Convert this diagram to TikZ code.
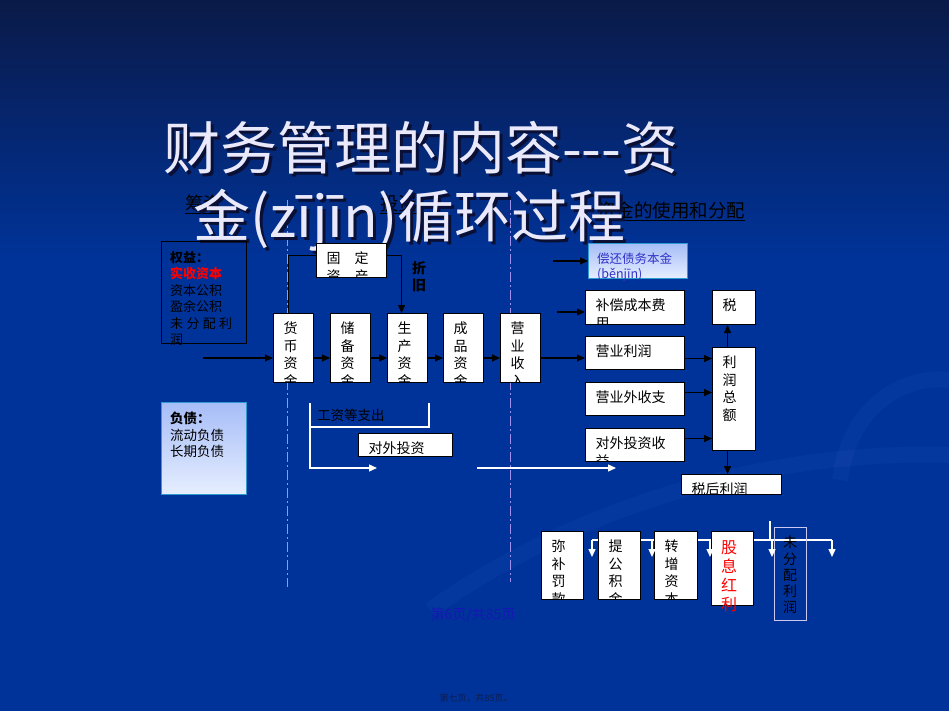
\documentclass[tikz,border=0pt]{standalone}
\usepackage{fontspec}
\setmainfont{Noto Sans CJK SC}
\usetikzlibrary{arrows.meta}
\definecolor{slidetop}{HTML}{0A1A48}
\definecolor{slideblue}{HTML}{003399}
\definecolor{titlefg}{HTML}{E9E9FB}
\definecolor{titleshadow}{HTML}{0A0F35}
\definecolor{guideline}{HTML}{A090F0}
\definecolor{paleblue}{HTML}{A6BDF7}
\definecolor{paleblue2}{HTML}{E6EEFF}
\definecolor{paleedge}{HTML}{2E9AD0}
\definecolor{debttext}{HTML}{3030C8}
\definecolor{retainedge}{HTML}{C8C8F0}
\definecolor{pagemark}{HTML}{1616B4}
\definecolor{footmark}{HTML}{101C50}
\definecolor{swirlblue}{HTML}{2A58C8}
\newcommand*{\FundBox}[6]{% #1 = name, #2 = x, #3 = y, #4 = width, #5 = height, #6 = text
  \node [fundbox, minimum width=#4pt, minimum height=#5pt,
    path picture={\node [boxtext] (#1-t) at ([xshift=9.5pt,yshift=-8pt]path picture bounding box.north west) {#6};}]
    (#1) at (#2,#3) {};%
}

\begin{document}
\begin{tikzpicture}[x=1pt, y=-1pt,
    fundbox/.style={draw=black, fill=white, line width=1.1pt, anchor=north west, inner sep=0pt},
    boxtext/.style={anchor=north west, inner sep=0pt, draw=none, fill=none, minimum width=0pt, minimum height=0pt,
      align=left, text=black, font=\fontsize{14}{17.5}\selectfont},
    flow/.style={draw=black, line width=1.1pt, -{Triangle[length=8pt,width=7pt]}},
    link/.style={draw=black, line width=1.1pt},
    wflow/.style={draw=white, line width=1.3pt, -{Triangle[length=8pt,width=7pt]}},
    wlink/.style={draw=white, line width=1.3pt},
    guide/.style={draw=guideline, line width=0.9pt, dash pattern=on 10pt off 3pt on 2pt off 3pt},
    phaselabel/.style={anchor=west, inner sep=0pt, text=black, font=\fontsize{18.5}{20}\selectfont},
    titletext/.style={anchor=west, inner sep=0pt, font=\fontsize{57}{60}\selectfont},
    swirl/.style={draw=swirlblue, line width=16pt, opacity=0.14}]
    \useasboundingbox (0,0) rectangle (949,711);

    % background
    \fill [top color=slidetop, bottom color=slideblue] (0,0) rectangle (949,260);
    \fill [slideblue] (0,259) rectangle (949,711);
    \draw [swirl] (430,610) .. controls (600,490) and (800,450) .. (949,455);
    \draw [swirl] (840,480) .. controls (850,400) and (910,375) .. (949,380);

    % guide lines
    \coordinate (guideA) at (287,200);
    \coordinate (guideB) at (510,200);
    \draw [guide] (guideA) -- ++(0,387);
    \draw [guide] (guideB) -- ++(0,382);

    % phase labels
    \node [phaselabel] (raise) at (185,203) {筹资};
    \node [phaselabel] (invest) at (380,203) {投资};
    \node [phaselabel] (usage) at (597,210) {资金的使用和分配};
    \foreach \n in {raise,invest,usage}
      \draw [black, line width=1pt] ([yshift=-1.5pt]\n.south west) -- ([yshift=-1.5pt]\n.south east);

    % title
    \node [titletext, text=titleshadow] (title1s) at (166,151) {财务管理的内容-{}-{}-资};
    \node [titletext, text=titlefg] (title1) at (163,148) {财务管理的内容-{}-{}-资};
    \node [titletext, text=titleshadow] (title2s) at (196,223) {金(zījīn)循环过程};
    \node [titletext, text=titlefg] (title2) at (193,220) {金(zījīn)循环过程};

    % left side
    \node [draw=black, line width=1.1pt, anchor=north west, minimum width=85pt, minimum height=102pt] (equity) at (161,241) {};
    \node [anchor=north west, inner sep=0pt, align=left, text=black, font=\fontsize{13}{16.5}\selectfont]
      (equity-t) at ([xshift=9pt,yshift=-10pt]equity.north west)
      {\bfseries 权益：\\\textcolor{red}{\bfseries 实收资本}\\资本公积\\盈余公积\\\makebox[62pt][s]{未\hfill 分\hfill 配\hfill 利}\\润};
    \node [draw=paleedge, line width=1.1pt, top color=paleblue, bottom color=paleblue2, anchor=north west,
      minimum width=85pt, minimum height=92pt] (liab) at (161,402) {};
    \node [anchor=north west, inner sep=0pt, align=left, text=black, font=\fontsize{13.5}{16.5}\selectfont]
      (liab-t) at ([xshift=9pt,yshift=-10pt]liab.north west)
      {\bfseries 负债：\\流动负债\\长期负债};

    % fund cycle
    \foreach \name/\x/\text in {huobi/273/{货\\币\\资\\金}, chubei/330/{储\\备\\资\\金},
        shengchan/387/{生\\产\\资\\金}, chengpin/443/{成\\品\\资\\金}, shouru/500/{营\\业\\收\\入}}
      {\FundBox{\name}{\x}{313}{40}{69}{\text}}
    \FundBox{fixed}{316}{243}{70}{34}{固\quad 定\\资\quad 产}
    \node [inner sep=0pt, align=center, text=black, font=\bfseries\fontsize{14}{17}\selectfont] (depr) at (419,277) {折\\旧};
    \FundBox{outinv}{358}{433}{94}{23}{对外投资}
    \node [anchor=west, inner sep=0pt, text=black, font=\fontsize{13.5}{15}\selectfont] (wage) at (317,415) {工资等支出};

    % distribution
    \node [fundbox, draw=paleedge, top color=paleblue, bottom color=paleblue2, minimum width=99pt, minimum height=35pt] (debt) at (588,243) {};
    \node [anchor=north west, inner sep=0pt, align=left, text=debttext, font=\fontsize{12.5}{14.5}\selectfont]
      (debt-t) at ([xshift=9pt,yshift=-10pt]debt.north west) {偿还债务本金\\(běnjīn)};
    \FundBox{cost}{585}{290}{99}{34}{补偿成本费\\用}
    \FundBox{oper}{585}{336}{99}{33}{营业利润}
    \FundBox{nonop}{585}{382}{99}{33}{营业外收支}
    \FundBox{invinc}{585}{428}{99}{33}{对外投资收\\益}
    \FundBox{tax}{712}{290}{43}{34}{税}
    \FundBox{total}{712}{347}{43}{103}{利\\润\\总\\额}
    \FundBox{netp}{681}{474}{100}{20}{税后利润}

    % profit use
    \coordinate (splitTop) at (770,521);
    \coordinate (splitL) at (592,540);
    \coordinate (splitR) at (832,540);
    \draw [wlink] (splitL) -- (splitR);
    \draw [wlink] (splitTop) -- (splitTop |- splitL);
    \FundBox{penalty}{541}{531}{42}{68}{弥\\补\\罚\\款}
    \FundBox{reserve}{598}{531}{42}{68}{提\\公\\积\\金}
    \FundBox{capital}{654}{531}{43}{68}{转\\增\\资\\本}
    \node [fundbox, minimum width=42pt, minimum height=74pt] (dividend) at (711,531) {};
    \node [anchor=north west, inner sep=0pt, align=left, text=red, font=\fontsize{16}{19}\selectfont]
      (dividend-t) at ([xshift=10pt,yshift=-9pt]dividend.north west) {股\\息\\红\\利};
    \node [draw=retainedge, line width=1.1pt, anchor=north west, minimum width=32pt, minimum height=93pt] (retained) at (774,527) {};
    \node [anchor=north west, inner sep=0pt, align=left, text=black, font=\fontsize{14}{16.2}\selectfont]
      (retained-t) at ([xshift=9pt,yshift=-9pt]retained.north west) {未\\分\\配\\利\\润};
    \foreach \x in {592,652,710,772,832}
      \draw [wflow] (\x,540) -- (\x,557);

    % black connectors
    \coordinate (rowline) at (0,358);
    \coordinate (inflow) at (203,358);
    \draw [flow] (inflow) -- (huobi.west |- rowline);
    \foreach \a/\b in {huobi/chubei, chubei/shengchan, shengchan/chengpin, chengpin/shouru}
      \draw [flow] (\a.east |- rowline) -- (\b.west |- rowline);
    \draw [flow] (shouru.east |- rowline) -- (oper.west |- rowline);
    \draw [link] ([xshift=-5.5pt]huobi.north) |- ([yshift=5pt]fixed.west);
    \draw [flow] ([yshift=5pt]fixed.east) -| ([xshift=-6pt]shengchan.north);
    \coordinate (debtin) at (553,261);
    \coordinate (costin) at (557,312);
    \draw [flow] (debtin) -- (debtin -| debt.west);
    \draw [flow] (costin) -- (costin -| cost.west);
    \draw [flow] ([yshift=-5.5pt]oper.east) -- ([yshift=-5.5pt]oper.east -| total.west);
    \draw [flow] ([yshift=6.5pt]nonop.east) -- ([yshift=6.5pt]nonop.east -| total.west);
    \draw [flow] ([yshift=6.5pt]invinc.east) -- ([yshift=6.5pt]invinc.east -| total.west);
    \draw [flow] ([xshift=-6.5pt]total.north) -- ([xshift=-6.5pt]total.north |- tax.south);
    \draw [flow] ([xshift=-6.5pt]total.south) -- ([xshift=-6.5pt]total.south |- netp.north);

    % white connectors
    \coordinate (wageL) at (310,403);
    \coordinate (wageR) at (429,403);
    \coordinate (wageB) at (429,427);
    \coordinate (outL) at (377,468);
    \coordinate (outR) at (477,468);
    \coordinate (outEnd) at (616,468);
    \draw [wlink] (wageL) |- (wageB) -- (wageR);
    \draw [wflow] (wageL) |- (outL);
    \draw [wflow] (outR) -- (outEnd);

    % page marks
    \node [text=pagemark, font=\fontsize{14}{16}\selectfont] (pageno) at (473,615) {第6页/共85页};
    \node [text=footmark, font=\fontsize{9}{10}\selectfont] (footer) at (476,698) {第七页，共85页。};
\end{tikzpicture}
\end{document}
